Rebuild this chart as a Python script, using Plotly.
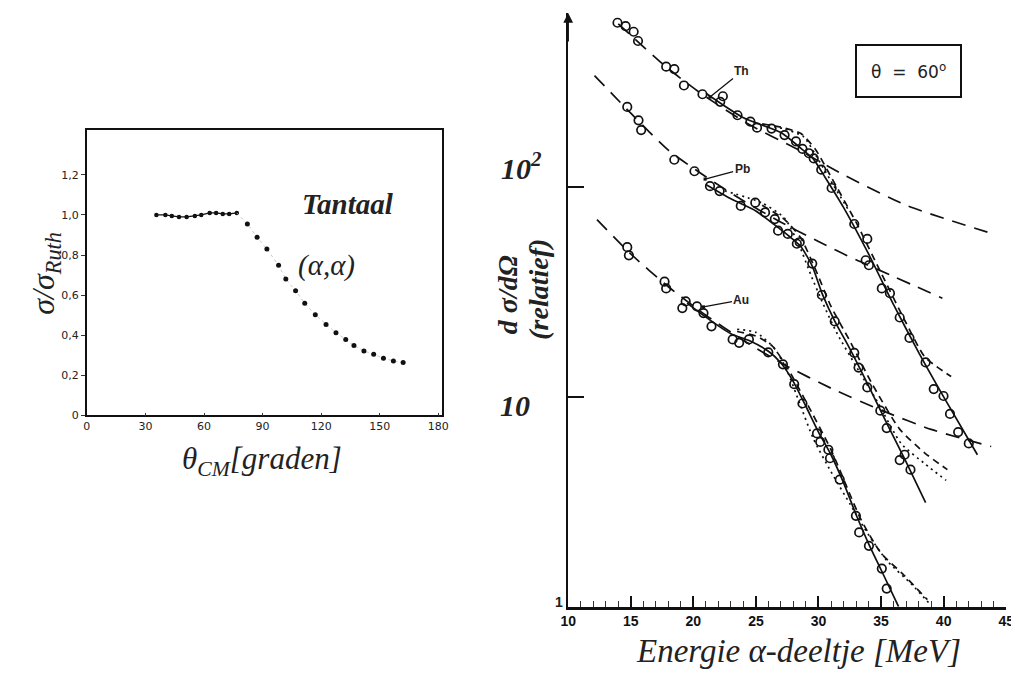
import plotly.graph_objects as go

W, H = 1019, 673

# ---------------- left panel data: Tantaal (alpha, alpha) ----------------
ta_flat_theta = [35.6, 40.2, 43.5, 47.2, 51.1, 55.3, 58.6, 62.9, 66.2, 69.6, 72.9, 76.8]
ta_flat_ratio = [1.0, 1.0, 0.995, 0.99, 0.99, 0.995, 1.0, 1.01, 1.01, 1.005, 1.005, 1.01]
ta_fall_theta = [82.2, 87.2, 92.2, 98.2, 101.9, 106.9, 111.6, 117.0, 122.5, 127.6,
                 132.6, 136.8, 141.9, 146.9, 151.9, 157.0, 162.0]
ta_fall_ratio = [0.955, 0.889, 0.83, 0.749, 0.68, 0.622, 0.56, 0.502, 0.453, 0.412,
                 0.379, 0.349, 0.321, 0.305, 0.285, 0.272, 0.264]
left_xticks = [0, 30, 60, 90, 120, 150, 180]
left_yticks = [0, 0.2, 0.4, 0.6, 0.8, 1.0, 1.2]
left_yticktext = ["0", "0,2", "0,4", "0,6", "0,8", "1,0", "1,2"]

# ---------------- right panel data: cross sections at theta = 60 deg ----------------
th_E = [13.94, 14.59, 15.23, 15.58, 17.83, 18.48, 19.25, 20.73, 22.36, 22.15, 23.53, 24.56,
        25.09, 26.25, 27.29, 28.2, 28.72, 29.23, 29.62, 30.22, 31.05, 32.86, 33.9, 33.77,
        34.03, 35.06, 35.71, 36.49, 37.27, 38.56, 39.21, 39.99, 40.51, 41.16, 42.01]
th_val = [607, 585, 550, 497, 375, 365, 305, 277, 271, 255, 220, 205,
          192, 190, 177, 165, 152, 145, 137, 121, 99, 66.7, 56.6, 44.8,
          42.4, 32.9, 31.2, 23.9, 19.1, 14.6, 10.9, 10.1, 8.3, 6.8, 6.0]
pb_E = [14.72, 15.62, 15.83, 18.48, 20.09, 21.33, 22.1, 23.79, 24.95, 25.73, 26.51, 26.77,
        27.55, 28.27, 28.5, 29.5, 30.27, 31.3, 32.86, 33.2, 33.9, 34.94, 35.45, 36.49,
        36.88, 37.35]
pb_val = [241, 208, 187, 135, 119, 101, 95.7, 81.3, 84.3, 75.7, 70.4, 62,
          59.8, 53.7, 54.6, 43.2, 30.6, 22.9, 16.2, 13.8, 11.1, 8.6, 7.1, 5.0,
          5.3, 4.5]
au_E = [14.72, 14.85, 17.7, 17.83, 19.39, 19.12, 20.29, 20.81, 21.45, 23.14, 23.66, 24.44,
        25.99, 27.16, 28.06, 28.72, 29.88, 30.14, 30.79, 30.92, 31.7, 32.99, 33.25, 34.03,
        35.06, 35.45]
au_val = [51.7, 47.3, 35.4, 32.9, 28.5, 26.5, 27, 25.1, 21.7, 18.8, 18.1, 18.8,
          16.3, 14.3, 11.5, 9.3, 6.7, 6.1, 5.6, 5.1, 4.03, 2.71, 2.26, 1.95,
          1.52, 1.22]

# Rutherford (long dashed) curves
th_ruth_E = [14.0, 17.8, 20.7, 24.5, 28.0, 32.2, 37.1, 43.5]
th_ruth = [600, 375, 277, 198, 155, 113, 81.5, 61]
pb_ruth_E = [12.1, 15.0, 18.0, 21.0, 24.0, 27.0, 30.0, 33.0, 36.0, 39.9]
pb_ruth = [340, 225, 150, 112, 86, 68, 55, 45, 37.5, 29.5]
au_ruth_E = [12.3, 15.0, 18.0, 21.0, 24.0, 27.3, 31.0, 35.1, 39.0, 43.8]
au_ruth = [70, 48, 33.5, 24.5, 18.6, 14.2, 11.0, 8.6, 7.0, 5.8]

# solid fits
th_fit_E = [21.0, 24.0, 27.0, 28.6, 29.6, 30.5, 32.0, 34.0, 36.0, 38.0, 40.0, 42.7]
th_fit = [280, 214, 182, 153, 136, 112, 80, 48, 27.5, 16.3, 10.0, 5.3]
pb_fit_E = [21.0, 23.0, 25.0, 26.5, 27.7, 28.6, 29.5, 30.3, 31.3, 32.5, 34.0, 35.5, 37.0, 38.56]
pb_fit = [103, 88, 77, 66, 58, 52, 42, 31, 23, 17, 11.3, 7.4, 4.9, 3.13]
au_fit_E = [19.5, 21.0, 23.0, 24.5, 26.0, 27.0, 28.0, 29.0, 30.0, 31.0, 32.0, 33.0, 34.0, 35.0, 36.4]
au_fit = [28, 24, 20, 18.5, 16.5, 14.5, 11.8, 9.0, 6.8, 5.3, 3.9, 2.75, 2.0, 1.5, 1.0]

# short-dashed model curves
th_dash_E = [25.5, 27.0, 28.6, 29.8, 31.0, 33.0, 35.0, 37.0, 38.5, 40.6]
th_dash = [200, 193, 180, 150, 112, 68, 39, 22.5, 15.5, 12.5]
pb_dash_E = [25.5, 27.3, 28.6, 29.8, 31.0, 32.5, 34.3, 36.5, 38.5, 40.3]
pb_dash = [82, 70, 57, 40, 27, 18.5, 11.5, 7.0, 5.4, 4.5]
au_dash_E = [23.5, 25.0, 26.3, 27.5, 29.0, 31.0, 33.4, 35.0, 36.8, 38.7]
au_dash = [20.5, 19.5, 17.5, 13.8, 9.5, 5.6, 2.6, 1.8, 1.42, 1.08]

# dotted model curves
th_dot_E = [25.5, 27.2, 28.8, 30.0, 31.2, 32.5]
th_dot = [198, 190, 174, 135, 102, 76]
pb_dot_E = [22.5, 25.5, 27.3, 28.5, 29.4, 30.4, 31.5, 33.0, 34.7, 36.6, 38.5, 40.2]
pb_dot = [96, 84, 71, 52, 38, 27.5, 20, 14, 9.5, 6.0, 4.8, 4.0]
au_dot_E = [23.5, 25.0, 26.5, 27.5, 28.5, 29.6, 31.0, 32.5, 34.0, 35.5, 37.5, 38.9]
au_dot = [21, 20.3, 17, 13.3, 9.3, 6.3, 4.4, 3.1, 2.2, 1.65, 1.27, 1.03]

right_xticks = [10, 15, 20, 25, 30, 35, 40, 45]

# ---------------- figure ----------------
def px(x):
    return x / W

def py(y):
    return 1 - y / H

fig = go.Figure()

# left panel
fig.add_trace(go.Scatter(x=ta_flat_theta, y=ta_flat_ratio, mode="lines+markers",
                         line=dict(color="#111", width=1.3),
                         marker=dict(color="#111", size=4.5),
                         xaxis="x", yaxis="y", showlegend=False))
fig.add_trace(go.Scatter(x=[ta_flat_theta[-1]] + ta_fall_theta, y=[ta_flat_ratio[-1]] + ta_fall_ratio,
                         mode="lines", line=dict(color="#bbb", width=0.8, dash="dot"),
                         xaxis="x", yaxis="y", showlegend=False))
fig.add_trace(go.Scatter(x=ta_fall_theta, y=ta_fall_ratio, mode="markers",
                         marker=dict(color="#111", size=5),
                         xaxis="x", yaxis="y", showlegend=False))

# right panel lines
LW = 1.7
def add_line(xs, ys, dash):
    fig.add_trace(go.Scatter(x=xs, y=ys, mode="lines", line=dict(color="#111", width=LW, dash=dash, shape="spline", smoothing=0.6),
                             xaxis="x2", yaxis="y2", showlegend=False))

for xs, ys in [(th_ruth_E, th_ruth), (pb_ruth_E, pb_ruth), (au_ruth_E, au_ruth)]:
    add_line(xs, ys, "14px,9px")
for xs, ys in [(th_dash_E, th_dash), (pb_dash_E, pb_dash), (au_dash_E, au_dash)]:
    add_line(xs, ys, "7px,5px")
for xs, ys in [(th_dot_E, th_dot), (pb_dot_E, pb_dot), (au_dot_E, au_dot)]:
    add_line(xs, ys, "2px,4px")
for xs, ys in [(th_fit_E, th_fit), (pb_fit_E, pb_fit), (au_fit_E, au_fit)]:
    add_line(xs, ys, "solid")

for xs, ys in [(th_E, th_val), (pb_E, pb_val), (au_E, au_val)]:
    fig.add_trace(go.Scatter(x=xs, y=ys, mode="markers",
                             marker=dict(symbol="circle-open", size=8.5, color="#111", line=dict(width=1.7)),
                             xaxis="x2", yaxis="y2", showlegend=False))

serif = "Liberation Serif"
ann = []

def txt(text, x, y, size, family=serif, angle=0, **kw):
    d = dict(text=text, x=px(x), y=py(y), xref="paper", yref="paper", showarrow=False,
             xanchor="center", yanchor="middle", textangle=angle,
             font=dict(family=family, size=size, color="#222"))
    d.update(kw)
    ann.append(d)

# left panel texts
txt("<b><i>Tantaal</i></b>", 337, 198, 29)
txt("<i>(α,α)</i>", 315, 260, 29)
txt("<i>σ/σ<sub>Ruth</sub></i>", 30, 268, 32, angle=-90)
txt("<i>θ<sub>CM</sub>[graden]</i>", 250, 458, 31)

# right panel texts
txt("<b><i>10<sup>2</sup></i></b>", 514, 160, 30)
txt("<b><i>10</i></b>", 507, 402, 30)
txt("<b>1</b>", 552, 600, 14, family="Liberation Sans")
txt("<b><i>d σ/dΩ</i></b>", 500, 290, 28, angle=-90)
txt("<b><i>(relatief)</i></b>", 530, 284, 28, angle=-90)
txt("<i>Energie α-deeltje [MeV]</i>", 795, 650, 33)
txt("θ  =  60<sup>o</sup>", 907, 64, 17, family="DejaVu Sans",
    bordercolor="#111", borderwidth=2, borderpad=14, bgcolor="white")

# y-axis arrow head
ann.append(dict(text="", x=10, y=2.83, xref="x2", yref="y2", showarrow=True, ax=0, ay=30,
                arrowhead=2, arrowsize=1.3, arrowwidth=1.5, arrowcolor="#111"))
# element labels with leaders
for lab, hx, hy, axp, ayp in [("Th", 21.33, 2.429, 32, -26), ("Pb", 20.94, 2.038, 37, -10), ("Au", 20.81, 1.429, 38, -7)]:
    ann.append(dict(text="<b>" + lab + "</b>", x=hx, y=hy, xref="x2", yref="y2", showarrow=True,
                    ax=axp, ay=ayp, arrowhead=7, arrowsize=0.6, arrowwidth=1.3, arrowcolor="#111",
                    font=dict(family="Liberation Sans", size=12, color="#222")))

fig.update_layout(
    width=W, height=H, margin=dict(l=0, r=0, t=0, b=0),
    paper_bgcolor="white", plot_bgcolor="rgba(0,0,0,0)",
    showlegend=False,
    annotations=ann,
    xaxis=dict(domain=[px(72), px(433)], range=[0, 182], tickvals=left_xticks,
               ticks="inside", ticklen=3, tickcolor="#333", showline=True, mirror=True,
               linecolor="#111", linewidth=1.6, showgrid=False, zeroline=False,
               tickfont=dict(family="DejaVu Sans", size=11, color="#222"), anchor="y"),
    yaxis=dict(domain=[py(411.7), py(123)], range=[0, 1.425], tickvals=left_yticks,
               ticktext=left_yticktext, ticks="outside", ticklen=4, tickcolor="#333",
               showline=True, mirror=True, linecolor="#111", linewidth=1.6,
               showgrid=False, zeroline=False,
               tickfont=dict(family="DejaVu Sans", size=11, color="#222"), anchor="x"),
    xaxis2=dict(domain=[px(561), px(1006)], range=[10, 45], tickvals=right_xticks,
                ticks="inside", ticklen=11, tickwidth=1.5, tickcolor="#111",
                minor=dict(dtick=1, ticks="inside", ticklen=6, tickwidth=1.2, tickcolor="#333"),
                showline=True, linecolor="#111", linewidth=2.5, showgrid=False, zeroline=False,
                tickfont=dict(family="Liberation Sans", size=14, color="#111", weight="bold"),
                anchor="y2"),
    yaxis2=dict(type="log", domain=[py(605), py(5)], range=[0, 2.83], tickvals=[10, 100],
                ticks="inside", ticklen=16, tickwidth=1.5, tickcolor="#111",
                showticklabels=False, showline=True, linecolor="#111", linewidth=1.6,
                showgrid=False, zeroline=False, anchor="x2"),
)

fig.write_html("out.html")
